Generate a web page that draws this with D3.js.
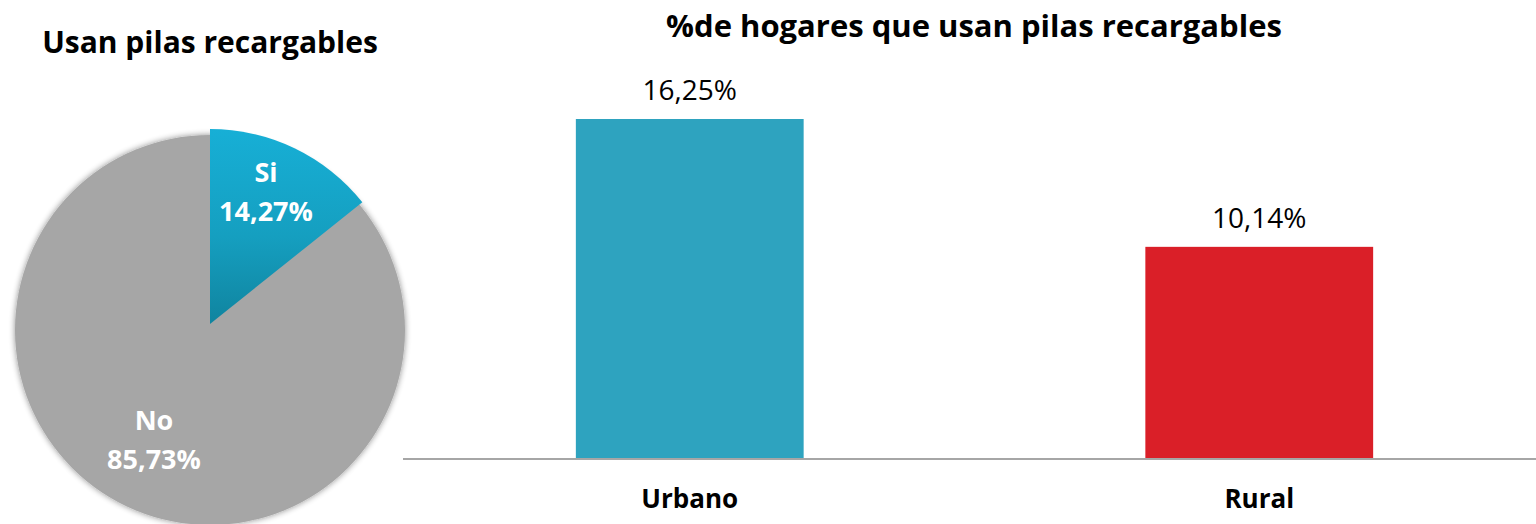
<!DOCTYPE html>
<html>
<head>
<meta charset="utf-8">
<script src="https://cdn.jsdelivr.net/npm/d3@7"></script>
<style>
  body { margin: 0; background: #fff; }
  text { font-family: "Open Sans", sans-serif; }
</style>
</head>
<body>
<div id="main"></div>
<script>
const W = 1536, H = 524;

// pie data
const pieLabels = ["Si", "No"];
const pieValues = [14.27, 85.73];
// bar data
const barCategories = ["Urbano", "Rural"];
const barValues = [16.25, 10.14];
const barColors = ["#2EA3BF", "#DA1F28"];

const fmt = (v) => v.toFixed(2).replace(".", ",") + "%";

let svgEl = d3.select("#main").append("svg")
    .attr("width", W)
    .attr("height", H);

let defs = svgEl.append("defs");
let grad = defs.append("linearGradient")
    .attr("id", "siGrad")
    .attr("x1", 0).attr("y1", 0).attr("x2", 0).attr("y2", 1);
grad.append("stop").attr("offset", "0%").attr("stop-color", "#17AFD6");
grad.append("stop").attr("offset", "55%").attr("stop-color", "#159FC0");
grad.append("stop").attr("offset", "100%").attr("stop-color", "#10849F");

let blur = defs.append("filter").attr("id", "soft")
    .attr("x", "-10%").attr("y", "-10%").attr("width", "120%").attr("height", "120%");
blur.append("feGaussianBlur").attr("in", "SourceAlpha").attr("stdDeviation", 3).attr("result", "b");
blur.append("feComponentTransfer").attr("in", "b").attr("result", "s")
    .append("feFuncA").attr("type", "linear").attr("slope", 0.45);
let merge = blur.append("feMerge");
merge.append("feMergeNode").attr("in", "s");
merge.append("feMergeNode").attr("in", "SourceGraphic");

/* ---- pie ---- */
const cx = 210, cy = 330, R = 195;
svgEl.append("text")
    .attr("x", 210).attr("y", 53)
    .attr("text-anchor", "middle")
    .style("font-size", "30px").style("font-weight", "bold")
    .text("Usan pilas recargables");

let pie = d3.pie().sort(null)(pieValues);
let arc = d3.arc().innerRadius(0).outerRadius(R);
let pieG = svgEl.append("g").attr("transform", `translate(${cx},${cy})`);
// grey "No" part drawn as the full disc, the "Si" slice sits on top of it
pieG.append("path")
    .attr("d", arc({ startAngle: 0, endAngle: 2 * Math.PI }))
    .attr("fill", "#A6A6A6")
    .attr("filter", "url(#soft)");
pieG.append("path")
    .attr("transform", "translate(0,-6)")
    .attr("d", arc(pie[0]))
    .attr("fill", "url(#siGrad)");

const pieLabelPos = [[56, -148], [-56, 100]];
pie.forEach(function (p, i) {
    let t = pieG.append("text")
        .attr("text-anchor", "middle")
        .attr("fill", "#fff")
        .style("font-size", "27px").style("font-weight", "bold");
    t.append("tspan").attr("x", pieLabelPos[i][0]).attr("y", pieLabelPos[i][1]).text(pieLabels[i]);
    t.append("tspan").attr("x", pieLabelPos[i][0]).attr("y", pieLabelPos[i][1] + 39).text(fmt(pieValues[i]));
});

/* ---- bars ---- */
const baseY = 459;
svgEl.append("text")
    .attr("x", 974).attr("y", 37)
    .attr("text-anchor", "middle")
    .style("font-size", "31px").style("font-weight", "bold")
    .text("%de hogares que usan pilas recargables");

let x = d3.scaleBand()
    .domain(barCategories)
    .range([405, 1544])
    .paddingInner(0.6)
    .paddingOuter(0.3);
let y = d3.scaleLinear()
    .domain([0, 16.25])
    .range([baseY, 119]);

svgEl.selectAll("rect.bar")
    .data(barValues)
    .enter()
    .append("rect")
    .attr("class", "bar")
    .attr("x", (d, i) => x(barCategories[i]))
    .attr("width", x.bandwidth())
    .attr("y", (d) => y(d))
    .attr("height", (d) => baseY - y(d))
    .attr("fill", (d, i) => barColors[i]);

svgEl.selectAll("text.val")
    .data(barValues)
    .enter()
    .append("text")
    .attr("class", "val")
    .attr("x", (d, i) => x(barCategories[i]) + x.bandwidth() / 2)
    .attr("y", (d) => y(d) - 19)
    .attr("text-anchor", "middle")
    .style("font-size", "28px")
    .text((d) => fmt(d));

let axisG = svgEl.append("g")
    .attr("transform", `translate(0,${baseY})`)
    .call(d3.axisBottom(x).tickSize(0).tickPadding(31));
axisG.select(".domain").attr("stroke", "#A6A6A6").attr("stroke-width", 2)
    .attr("d", "M403,0H1536");
axisG.selectAll("text")
    .style("font-family", "'Open Sans', sans-serif")
    .style("font-size", "26px").style("font-weight", "bold")
    .attr("fill", "#000");
</script>
</body>
</html>
